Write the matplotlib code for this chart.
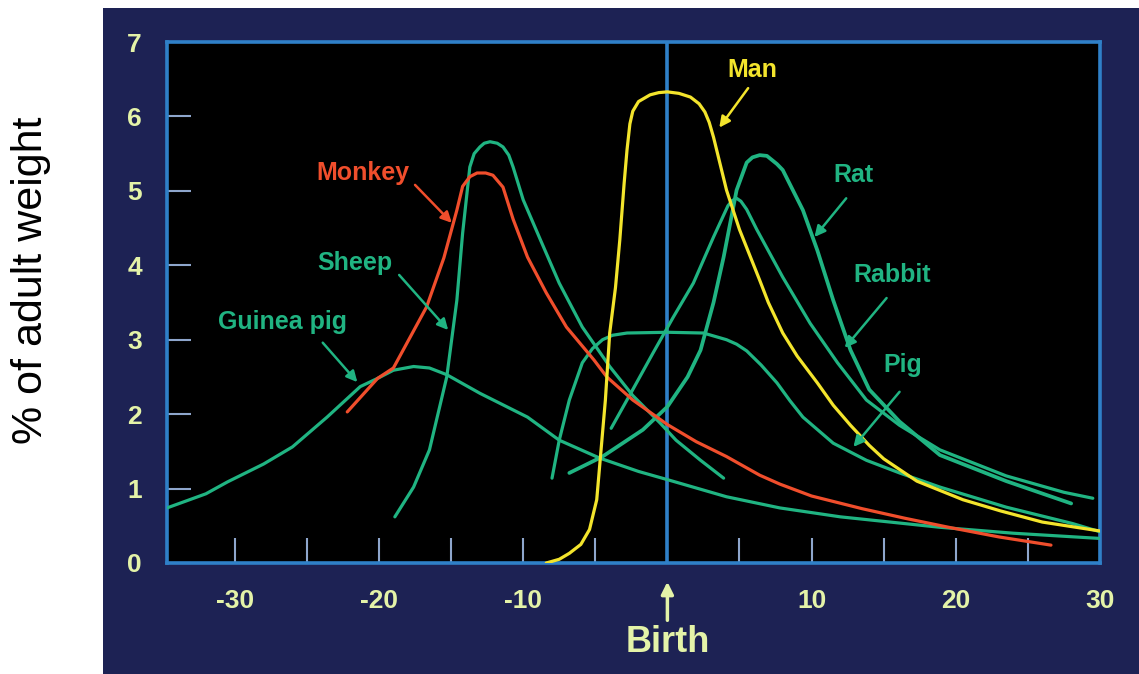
import matplotlib
matplotlib.use("Agg")
import matplotlib.pyplot as plt
from matplotlib.patches import Rectangle

# ---- data (age in days relative to birth, % of adult weight) ----
guinea_x = [-34.7, -32, -30.5, -28, -26, -23.6, -21.3, -20.1, -19.0, -17.6, -16.5, -15.3, -13.0,
            -9.7, -7.5, -4.7, -2.0, 0, 4.1, 7.8, 12.0, 18.9, 24, 30]
guinea_y = [0.74, 0.93, 1.09, 1.33, 1.56, 1.96, 2.37, 2.48, 2.59, 2.64, 2.62, 2.53, 2.28,
            1.96, 1.65, 1.41, 1.23, 1.12, 0.89, 0.74, 0.62, 0.48, 0.40, 0.33]

monkey_x = [-22.2, -20.1, -19.0, -16.7, -15.5, -14.6, -14.2, -13.7, -13.2, -12.6, -12.1, -11.4, -10.7,
            -9.7, -8.4, -7.0, -5.1, -4.2, -2.4, 0, 2.0, 4.1, 6.4, 7.8, 10.0, 13.5, 16.5, 19.5, 23, 26.6]
monkey_y = [2.03, 2.48, 2.62, 3.44, 4.10, 4.74, 5.06, 5.19, 5.24, 5.24, 5.21, 5.05, 4.62,
            4.11, 3.63, 3.17, 2.73, 2.50, 2.19, 1.86, 1.63, 1.43, 1.18, 1.06, 0.90, 0.73, 0.60, 0.48, 0.35, 0.24]

sheep_x = [-18.9, -17.6, -16.5, -15.3, -14.6, -14.2, -13.7, -13.4, -13.0, -12.7, -12.3, -11.8, -11.4,
           -11.0, -10.7, -10.0, -8.8, -7.5, -5.9, -4.0, -2.4, -0.5, 0.6, 2.3, 3.9]
sheep_y = [0.62, 1.02, 1.52, 2.50, 3.53, 4.43, 5.32, 5.50, 5.59, 5.64, 5.66, 5.64, 5.59,
           5.48, 5.32, 4.88, 4.34, 3.76, 3.17, 2.64, 2.25, 1.88, 1.65, 1.38, 1.14]

man_x = [-8.4, -7.5, -6.8, -6.0, -5.4, -4.9, -4.6, -4.3, -4.0, -3.6, -3.3, -3.0, -2.8, -2.6, -2.4,
         -2.0, -1.2, -0.6, 0, 0.8, 1.6, 2.2, 2.6, 2.9, 3.2, 4.1, 5.0, 6.4, 7.0, 8.0, 9.0, 10.4,
         11.5, 12.7, 14.0, 15.0, 17.3, 20.5, 23.1, 26, 30]
man_y = [0.0, 0.05, 0.13, 0.25, 0.45, 0.85, 1.52, 2.19, 3.09, 3.70, 4.34, 5.10, 5.55, 5.90, 6.07,
         6.20, 6.29, 6.32, 6.33, 6.31, 6.26, 6.17, 6.06, 5.92, 5.72, 5.01, 4.48, 3.80, 3.50, 3.09, 2.78, 2.42,
         2.12, 1.85, 1.58, 1.40, 1.10, 0.85, 0.70, 0.55, 0.43]

pig_x = [-8.0, -7.5, -6.8, -5.9, -5.2, -4.5, -3.8, -2.8, 0, 2.5, 4.1, 4.8, 5.5, 6.5, 7.6, 8.5, 9.4,
         11.5, 13.8, 16.1, 18.9, 23.5, 28.1, 30]
pig_y = [1.14, 1.65, 2.19, 2.69, 2.88, 3.00, 3.06, 3.09, 3.10, 3.09, 3.00, 2.94, 2.85, 2.66, 2.42, 2.18, 1.96,
         1.61, 1.38, 1.21, 1.02, 0.75, 0.53, 0.42]

rabbit_x = [-3.9, -2.4, -1.0, 0.4, 1.8, 3.2, 4.2, 4.5, 4.8, 5.1, 5.5, 6.2, 8.0, 9.9, 11.8, 13.8, 16.1,
            18.9, 23.5, 27.5, 29.5]
rabbit_y = [1.81, 2.33, 2.82, 3.30, 3.76, 4.38, 4.80, 4.87, 4.90, 4.86, 4.75, 4.48, 3.84, 3.22, 2.69, 2.19, 1.85,
            1.52, 1.17, 0.95, 0.87]

rat_x = [-6.8, -4.5, -1.7, 0, 1.4, 2.3, 3.2, 3.9, 4.8, 5.5, 5.9, 6.4, 6.9, 7.6, 8.0, 9.4, 10.4, 11.5,
         12.7, 14.0, 16.1, 18.9, 23.5, 28]
rat_y = [1.21, 1.43, 1.79, 2.10, 2.50, 2.86, 3.50, 4.11, 5.01, 5.38, 5.45, 5.48, 5.47, 5.36, 5.28, 4.74, 4.20, 3.53,
         2.86, 2.33, 1.90, 1.45, 1.10, 0.80]

x_ticks = [-30, -25, -20, -15, -10, -5, 5, 10, 15, 20, 25, 30]
x_tick_labels = ["-30", "", "-20", "", "-10", "", "", "10", "", "20", "", "30"]
y_ticks = [0, 1, 2, 3, 4, 5, 6, 7]
y_tick_labels = ["0", "1", "2", "3", "4", "5", "6", "7"]

# label text positions and arrows (tail -> tip), data coords
labels = ["Man", "Monkey", "Sheep", "Guinea pig", "Rat", "Rabbit", "Pig"]
label_pos = [(5.9, 6.62), (-21.1, 5.24), (-21.7, 4.03), (-26.7, 3.24), (12.9, 5.21), (15.6, 3.87), (16.3, 2.66)]
arrow_tail = [(5.6, 6.38), (-17.5, 5.08), (-18.6, 3.87), (-23.9, 2.96), (12.4, 4.90), (15.2, 3.56), (16.1, 2.30)]
arrow_tip = [(3.6, 5.85), (-14.95, 4.57), (-15.2, 3.13), (-21.5, 2.43), (10.2, 4.38), (12.3, 2.89), (12.9, 1.56)]

# ---- styling ----
NAVY = "#1d2254"
GREEN = "#20b482"
RED = "#f04e2c"
YELLOW = "#f3e42c"
BLUE = "#2f80c8"
PALE = "#e4f3a8"

fig = plt.figure(figsize=(11.39, 6.74), dpi=100)
fig.patch.set_facecolor("white")
bg = Rectangle((103 / 1139, 0), 1 - 103 / 1139, 1 - 8 / 674,
               transform=fig.transFigure, facecolor=NAVY, edgecolor="none", zorder=-10)
fig.patches.append(bg)

ax = fig.add_axes([167 / 1139, 1 - 563 / 674, (1100 - 167) / 1139, (563 - 42) / 674])
ax.set_zorder(5)
ax.set_facecolor("black")
ax.set_xlim(-34.7, 30)
ax.set_ylim(0, 7)

for s in ax.spines.values():
    s.set_color(BLUE)
    s.set_linewidth(2.6)

ax.axvline(0, color=BLUE, lw=2.6, zorder=1)

lw = 2.3
kw = dict(solid_joinstyle="round", solid_capstyle="round", zorder=3)
ax.plot(guinea_x, guinea_y, color=GREEN, lw=lw, **kw)
ax.plot(sheep_x, sheep_y, color=GREEN, lw=lw, **kw)
ax.plot(pig_x, pig_y, color=GREEN, lw=lw, **kw)
ax.plot(rabbit_x, rabbit_y, color=GREEN, lw=lw, **kw)
ax.plot(rat_x, rat_y, color=GREEN, lw=lw + 0.4, **kw)
ax.plot(monkey_x, monkey_y, color=RED, lw=lw, **kw)
ax.plot(man_x, man_y, color=YELLOW, lw=lw, **kw)

label_colors = [YELLOW, RED, GREEN, GREEN, GREEN, GREEN, GREEN]
for lab, pos, tail, tip, c in zip(labels, label_pos, arrow_tail, arrow_tip, label_colors):
    ax.text(pos[0], pos[1], lab, color=c, fontsize=18, fontweight="bold",
            family="Liberation Sans", ha="center", va="center", zorder=5)
    ax.annotate("", xy=tip, xytext=tail,
                arrowprops=dict(arrowstyle="-|>", color=c, lw=1.8, mutation_scale=16,
                                shrinkA=0, shrinkB=0), zorder=5)

ax.set_xticks(x_ticks)
ax.set_xticklabels(x_tick_labels)
ax.set_yticks(y_ticks)
ax.set_yticklabels(y_tick_labels)
ax.tick_params(axis="x", direction="in", length=18, width=1.5, color="#8ea6cc",
               labelcolor=PALE, pad=19, labelsize=19)
ax.tick_params(axis="y", direction="in", length=17, width=1.5, color="#8ea6cc",
               labelcolor=PALE, pad=18, labelsize=19)
for t in ax.get_xticklabels() + ax.get_yticklabels():
    t.set_fontweight("bold")
    t.set_family("Liberation Sans")

# Birth arrow and label
ax.annotate("", xy=(0, -0.036), xycoords=("data", "axes fraction"),
            xytext=(0, -0.110), textcoords=("data", "axes fraction"),
            arrowprops=dict(arrowstyle="-|>", color=PALE, lw=2.5, mutation_scale=18,
                            shrinkA=0, shrinkB=0), annotation_clip=False)
ax.text(0, -0.152, "Birth", transform=ax.get_xaxis_transform(), color=PALE,
        fontsize=26, fontweight="bold", family="Liberation Sans",
        ha="center", va="center", clip_on=False)

fig.text(31 / 1139, 1 - 280 / 674, "% of adult weight", rotation=90, ha="center", va="center",
         fontsize=31, color="black", family="Liberation Sans")

fig.savefig("out.png", dpi=100, facecolor=fig.get_facecolor())
